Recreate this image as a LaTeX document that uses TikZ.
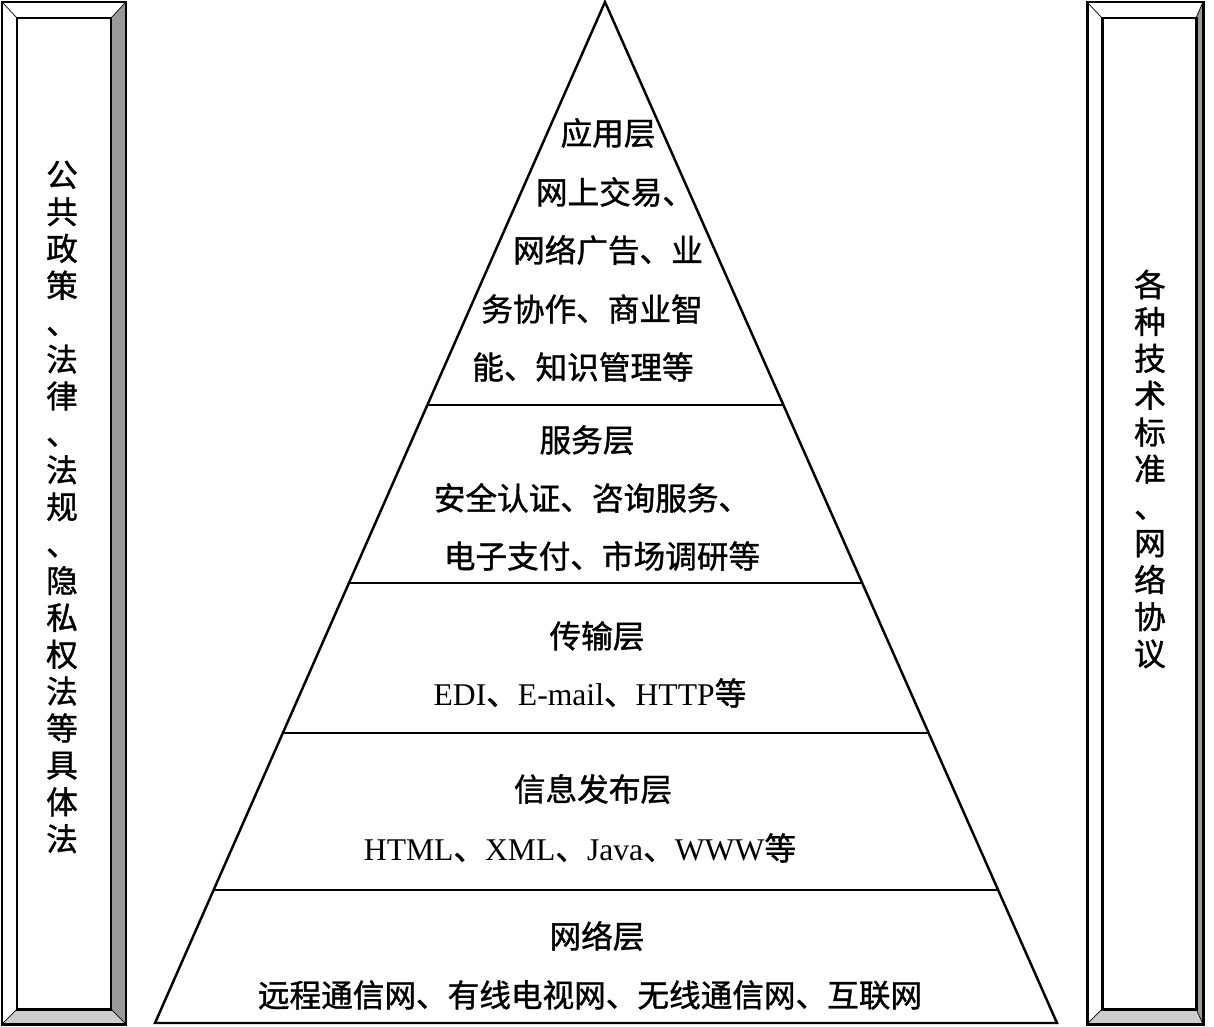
\documentclass[tikz,border=0pt]{standalone}
\usepackage{fontspec}
\setmainfont{Liberation Serif}
\newfontfamily\cjk[FakeBold=1.2]{Noto Sans CJK SC}
\usetikzlibrary{calc, positioning}
\definecolor{bevdark}{HTML}{999999}
\definecolor{bevlight}{HTML}{CCCCCC}
\newcommand{\zh}[1]{{\cjk #1}}

\begin{document}
\begin{tikzpicture}[
    x=0.02cm, y=-0.02cm,
    every node/.style={font=\fontsize{18}{21}\selectfont\cjk, inner sep=0pt},
    edge/.style={line width=1.4pt},
    divider/.style={line width=1.4pt},
    bar/.style={line width=1.7pt},
    vtext/.style={align=center, text width=0.7cm}
]
    \useasboundingbox (0,0) rectangle (1214,1027);

    % side bars
    \foreach \xa/\xb/\xc/\xd in {2/126/17/111, 1087/1203/1102/1196} {
        \fill[white]    (\xa,2) -- (\xb,2) -- (\xd,18) -- (\xc,18) -- cycle;
        \fill[white]    (\xa,2) -- (\xc,18) -- (\xc,1009) -- (\xa,1024) -- cycle;
        \fill[bevdark]  (\xb,2) -- (\xb,1024) -- (\xd,1009) -- (\xd,18) -- cycle;
        \fill[bevlight] (\xa,1024) -- (\xb,1024) -- (\xd,1009) -- (\xc,1009) -- cycle;
        \draw[thin] (\xa,2) -- (\xc,18) (\xb,2) -- (\xd,18)
                    (\xa,1024) -- (\xc,1009) (\xb,1024) -- (\xd,1009);
        \draw[bar] (\xa,2) rectangle (\xb,1024);
        \draw[bar] (\xc,18) rectangle (\xd,1009);
    }

    % pyramid
    \coordinate (apex) at (605,2);
    \coordinate (bl)   at (155,1023);
    \coordinate (br)   at (1057,1023);
    \draw[edge] (apex) -- (br) -- (bl) -- cycle;
    \foreach \t in {0.3947, 0.569, 0.716, 0.8697}
        \draw[divider] ($(apex)!\t!(bl)$) -- ($(apex)!\t!(br)$);

    % application layer
    \node (app)   at (608,133) {应用层};
    \node (appA)  at (615,192) {网上交易、};
    \node (appB)  at (608,250) {网络广告、业};
    \node (appC)  at (592,309) {务协作、商业智};
    \node (appD)  at (583,367) {能、知识管理等};

    % service layer
    \node (srv)   at (587,440) {服务层};
    \node (srvA)  at (592,498) {安全认证、咨询服务、};
    \node (srvB)  at (602,556) {电子支付、市场调研等};

    % transport layer
    \node (trans)  at (597,636) {传输层};
    \node (transA) at (590,693) {\rmfamily EDI\zh{、}E-mail\zh{、}HTTP\zh{等}};

    % publishing layer
    \node (pub)   at (593,789) {信息发布层};
    \node (pubA)  at (580,848) {\rmfamily HTML\zh{、}XML\zh{、}Java\zh{、}WWW\zh{等}};

    % network layer
    \node (net)   at (597,936) {网络层};
    \node (netA)  at (590,995) {远程通信网、有线电视网、无线通信网、互联网};

    % side texts
    \node[vtext] (policy) at (62,507) {公\\共\\政\\策\\、\\法\\律\\、\\法\\规\\、\\隐\\私\\权\\法\\等\\具\\体\\法};
    \node[vtext] (tech)   at (1150,469) {各\\种\\技\\术\\标\\准\\、\\网\\络\\协\\议};
\end{tikzpicture}
\end{document}
